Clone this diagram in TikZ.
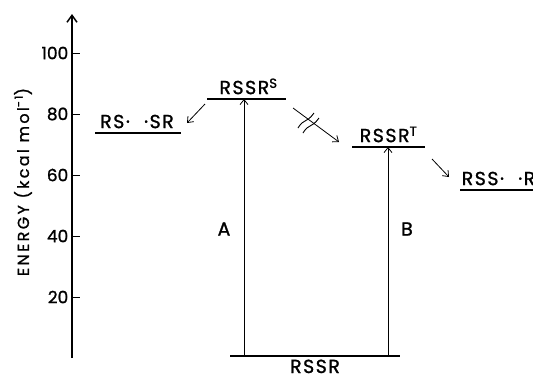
\documentclass[tikz,border=0pt]{standalone}
\usepackage{fontspec}
\setmainfont{Poppins}[FakeBold=1.2]
\newfontfamily\labfont{Poppins}[LetterSpace=8,FakeBold=1.2]
\newfontfamily\axfont{Poppins}[LetterSpace=15,FakeBold=1.2]
\usetikzlibrary{arrows.meta,calc}

\tikzset{
  level/.style={line width=2.6bp},
  trans/.style={line width=0.8bp, -{Straight Barb[length=5bp,width=8bp]}},
  lab/.style={font=\labfont\fontsize{19}{19}\selectfont, inner sep=1bp},
  ticklab/.style={font=\fontsize{17}{17}\selectfont, inner sep=1bp},
  axlab/.style={font=\axfont\fontsize{16}{16}\selectfont, inner sep=1bp}
}

\begin{document}
\begin{tikzpicture}[x=1bp, y=-1bp, line width=1.5bp]
  \useasboundingbox (0,0) rectangle (533,378);
  % energy axis
  \coordinate (ax0) at (72,358);
  \coordinate (ax1) at (72,14);
  \draw[-{Straight Barb[length=7bp,width=10bp]}] (ax0) -- (ax1);
  \foreach \e in {20,40,60,80,100}{
    \draw[line width=1bp] ([yshift=3.05*\e bp]ax0) -- ++(8,0);
    \node[ticklab, anchor=east] (tick\e) at ([yshift=3.05*\e bp, xshift=-2bp]ax0) {\e};
  }
  \node[axlab, rotate=90] (ylab) at (23,182) {ENERGY (kcal mol\textsuperscript{-1})};
  % levels
  \coordinate (rsl) at (95,133);   \coordinate (rsr) at (181,133);
  \coordinate (sl) at (207,99);    \coordinate (sr) at (286,99);
  \coordinate (tl) at (352,147);   \coordinate (tr) at (425,147);
  \coordinate (rssl) at (460,190); \coordinate (rssr) at (545,190);
  \coordinate (gl) at (230,356);   \coordinate (gr) at (400,356);
  \draw[level] (rsl) -- (rsr);
  \draw[level] (sl) -- (sr);
  \draw[level] (tl) -- (tr);
  \draw[level] (rssl) -- (rssr);
  \draw[level] (gl) -- (gr);
  \node[lab, anchor=south] (rs) at ($(rsl)!0.5!(rsr)+(-1,-3)$) {RS·\hspace{0.75em}·SR};
  \node[lab, anchor=south] (s) at ($(sl)!0.5!(sr)+(2,-3)$) {RSSR\textsuperscript{S}};
  \node[lab, anchor=south] (t) at ($(tl)!0.5!(tr)+(0,-3)$) {RSSR\textsuperscript{T}};
  \node[lab, anchor=south west] (rss) at ($(rssl)+(0,-3)$) {RSS·\hspace{0.75em}·R};
  \node[lab, inner sep=0pt, text depth=0pt, anchor=base] (g) at ($(gl)!0.5!(gr)+(0,17)$) {RSSR};
  % absorptions
  \coordinate (a0) at (244,356); \coordinate (a1) at (244,99);
  \coordinate (b0) at (388,356); \coordinate (b1) at (388,147);
  \draw[trans] (a0) -- (a1);
  \draw[trans] (b0) -- (b1);
  \node[lab] (A) at (224,229) {A};
  \node[lab] (B) at (407,229) {B};
  % decay paths
  \coordinate (d1) at (205,104); \coordinate (d2) at (187,123);
  \coordinate (d3) at (293,108); \coordinate (d4) at (339,142);
  \coordinate (d5) at (432,159); \coordinate (d6) at (449,177);
  \draw[trans] (d1) -- (d2);
  \draw[trans] (d3) -- (d4);
  \draw[trans] (d5) -- (d6);
  % forbidden mark
  \draw[line width=0.9bp] (298,128) .. controls (304,118) and (306,124) .. (314,113);
  \draw[line width=0.9bp] (303,133) .. controls (309,123) and (311,129) .. (319,118);
\end{tikzpicture}
\end{document}
